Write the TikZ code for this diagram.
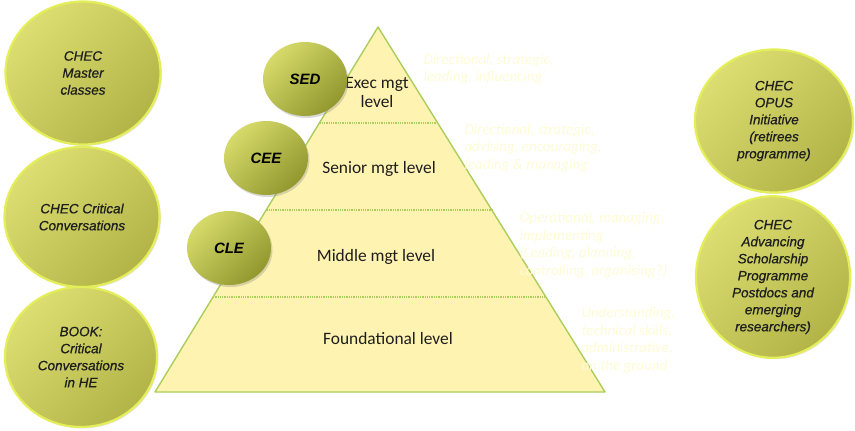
\documentclass[tikz,border=0pt]{standalone}
\usepackage{fontspec}
\setmainfont{Carlito}
\newfontfamily\arialfont{Liberation Sans}[ItalicFeatures={FakeBold=0.6}]
\usetikzlibrary{shapes.geometric, shadows, calc}

\definecolor{pyrfill}{RGB}{255,243,178}
\definecolor{pyrline}{RGB}{170,205,92}
\definecolor{ringlight}{RGB}{220,222,114}
\definecolor{ringdark}{RGB}{178,180,72}
\definecolor{ringline}{RGB}{228,238,88}
\definecolor{badgelight}{RGB}{214,218,106}
\definecolor{badgedark}{RGB}{146,152,46}
\definecolor{faint}{RGB}{254,251,214}
\definecolor{ink}{RGB}{30,30,30}

\begin{document}
\begin{tikzpicture}[x=1pt, y=-1pt,
  ring/.style  ={ellipse, draw=ringline, line width=2.2pt, align=center,
                 inner sep=0pt, text=ink,
                 font=\arialfont\itshape\fontsize{13.5}{17}\selectfont,
                 top color=ringlight, bottom color=ringdark, shading angle=45,
                 drop shadow={opacity=0.18, shadow xshift=1.5pt, shadow yshift=-1.5pt}},
  badge/.style ={ellipse, minimum width=84pt, minimum height=74pt, inner sep=0pt,
                 text=black, font=\arialfont\bfseries\itshape\fontsize{15}{17}\selectfont,
                 top color=badgelight, bottom color=badgedark, shading angle=45,
                 drop shadow={opacity=0.3, shadow xshift=1.5pt, shadow yshift=-2pt}},
  level/.style ={align=center, text=ink, font=\fontsize{17.4}{19}\selectfont},
  role/.style  ={anchor=west, align=left, text=faint,
                 font=\itshape\fontsize{15}{17.5}\selectfont},
  sep/.style   ={pyrline, densely dotted, line width=1.3pt},
]
\useasboundingbox (0,0) rectangle (855,431);

\coordinate (apex) at (378,27);
\coordinate (bl) at (155,392);
\coordinate (br) at (605,392);
\filldraw[fill=pyrfill, draw=pyrline, line width=1.4pt, line join=round]
  (apex) -- (br) -- (bl) -- cycle;
\foreach \t in {0.263,0.501,0.740}
  \draw[sep] ($(apex)!\t!(bl)$) -- ($(apex)!\t!(br)$);

\node[level] (exec) at (377,92) {Exec mgt\\level};
\node[level] (senior) at (379,169) {Senior mgt level};
\node[level] (middle) at (376,257) {Middle mgt level};
\node[level] (found) at (388,339) {Foundational level};

\node[role] (r1) at (420,69) {Directional, strategic,\\leading, influencing};
\node[role] (r2) at (461,148) {Directional, strategic,\\advising, encouraging,\\leading \& managing};
\node[role] (r3) at (516,245) {Operational, managing,\\implementing\\(Leading, planning,\\controlling, organising?)};
\node[role] (r4) at (578,340) {Understanding,\\technical skills,\\administrative,\\on the ground};

\node[badge] (sed) at (305,79) {SED};
\node[badge] (cee) at (266,158) {CEE};
\node[badge] (cle) at (229,248) {CLE};

\node[ring, minimum width=155pt, minimum height=143pt] (master) at (83,73)
  {CHEC\\Master\\classes};
\node[ring, minimum width=155pt, minimum height=140pt] (conv) at (82,217)
  {CHEC Critical\\Conversations};
\node[ring, minimum width=152pt, minimum height=140pt] (book) at (81,357)
  {BOOK:\\Critical\\Conversations\\in HE};
\node[ring, minimum width=158pt, minimum height=143pt] (opus) at (774,121)
  {CHEC\\OPUS\\Initiative\\(retirees\\programme)};
\node[ring, minimum width=154pt, minimum height=147pt] (asp) at (773,277)
  {CHEC\\Advancing\\Scholarship\\Programme\\Postdocs and\\emerging\\researchers)};
\end{tikzpicture}
\end{document}
